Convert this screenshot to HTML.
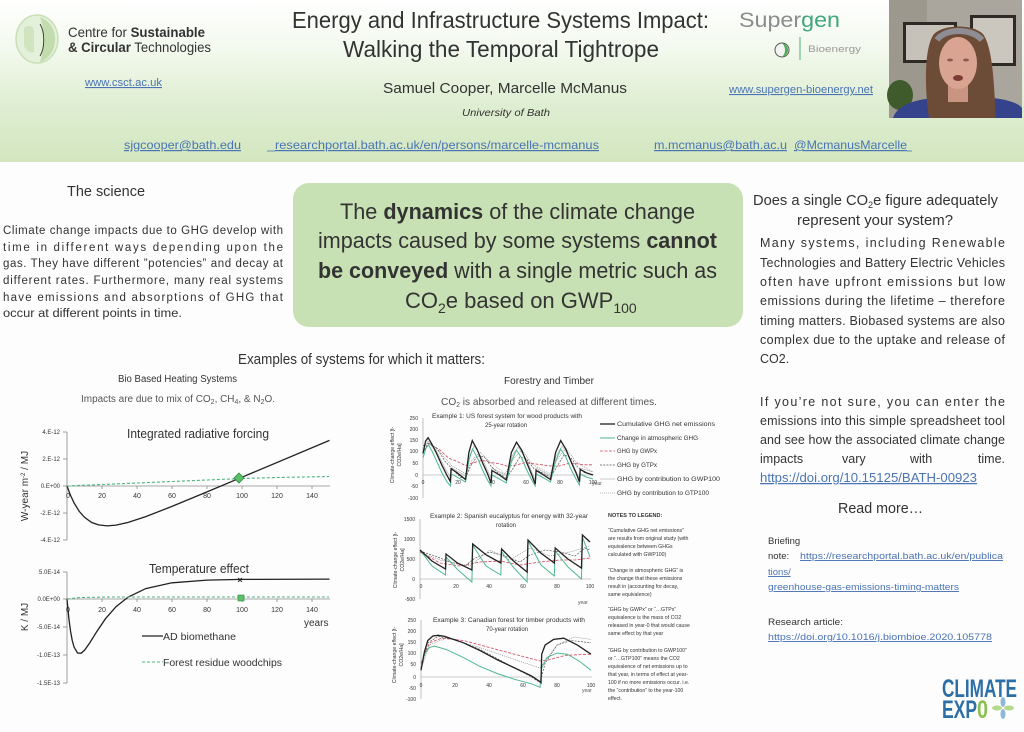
<!DOCTYPE html>
<html><head><meta charset="utf-8">
<style>
html,body{margin:0;padding:0;width:1024px;height:732px;overflow:hidden;background:#fff}
svg{display:block}
text{font-family:"Liberation Sans",sans-serif;fill:#333}
.lk{fill:#4a74b4;text-decoration:underline}
.tk{font-size:6px;fill:#555}
.ft{font-size:5px;fill:#555}
.nt{font-size:5.2px;fill:#333}
</style></head><body>
<svg width="1024" height="732" viewBox="0 0 1024 732" xmlns="http://www.w3.org/2000/svg">
<defs>
<linearGradient id="hdr" x1="0" y1="0" x2="0" y2="1">
<stop offset="0" stop-color="#ffffff"/>
<stop offset="0.3" stop-color="#f3f9ee"/>
<stop offset="0.65" stop-color="#dfeed2"/>
<stop offset="1" stop-color="#d2e6bf"/>
</linearGradient>
</defs>
<rect width="1024" height="732" fill="#fdfdfd"/>
<rect width="1024" height="162" fill="url(#hdr)"/>

<!-- CSCT logo -->
<ellipse cx="37" cy="39" rx="21" ry="24" fill="#e3f0da" stroke="#c9dfb8" stroke-width="1.5"/>
<path d="M40,17 C52,22 56,32 55,42 C54,52 48,59 40,62 C44,52 45,28 40,17 Z" fill="#c3dcae"/>
<path d="M24,28 C30,24 34,26 34,32 L34,52 C30,54 26,50 24,46 Z" fill="#cfe4bf"/>
<path d="M40,24 C45,32 45,48 40,56" stroke="#333" stroke-width="0.9" fill="none"/>
<text x="68" y="37" font-size="14" textLength="137" lengthAdjust="spacingAndGlyphs">Centre for <tspan font-weight="bold">Sustainable</tspan></text>
<text x="68" y="52" font-size="14" textLength="143" lengthAdjust="spacingAndGlyphs"><tspan font-weight="bold">&amp; Circular</tspan> Technologies</text>
<text x="85" y="86" font-size="11" class="lk" textLength="77" lengthAdjust="spacingAndGlyphs">www.csct.ac.uk</text>

<!-- Title -->
<text x="292" y="28" font-size="23" textLength="417" lengthAdjust="spacingAndGlyphs">Energy and Infrastructure Systems Impact:</text>
<text x="343" y="57" font-size="23" textLength="316" lengthAdjust="spacingAndGlyphs">Walking the Temporal Tightrope</text>
<text x="383" y="93" font-size="15" textLength="244" lengthAdjust="spacingAndGlyphs">Samuel Cooper, Marcelle McManus</text>
<text x="462" y="116" font-size="10.5" font-style="italic" textLength="88" lengthAdjust="spacingAndGlyphs">University of Bath</text>

<!-- Supergen -->
<text x="739" y="27" font-size="21" textLength="101" lengthAdjust="spacingAndGlyphs"><tspan style="fill:#8c8c8c">Super</tspan><tspan style="fill:#3fa77c">gen</tspan></text>
<circle cx="782" cy="50" r="7" fill="#f4f4f4" stroke="#555" stroke-width="1"/>
<path d="M782,43 C790,45 790,55 782,57 C786,53 786,47 782,43 Z" fill="#4caf50"/>
<line x1="800" y1="37" x2="800" y2="60" stroke="#4caf7d" stroke-width="1"/>
<text x="808" y="52" font-size="9" style="fill:#999" textLength="53" lengthAdjust="spacingAndGlyphs">Bioenergy</text>
<text x="729" y="93" font-size="11" class="lk" textLength="144" lengthAdjust="spacingAndGlyphs">www.supergen-bioenergy.net</text>

<!-- contact row -->
<text x="124" y="149" font-size="12" class="lk" textLength="117" lengthAdjust="spacingAndGlyphs">sjgcooper@bath.edu</text>
<line x1="267" y1="151" x2="275" y2="151" stroke="#4a74b4" stroke-width="0.8"/>
<text x="275" y="149" font-size="12" class="lk" textLength="324" lengthAdjust="spacingAndGlyphs">researchportal.bath.ac.uk/en/persons/marcelle-mcmanus</text>
<text x="654" y="149" font-size="12" class="lk" textLength="133" lengthAdjust="spacingAndGlyphs">m.mcmanus@bath.ac.u</text>
<text x="794" y="149" font-size="12" class="lk" textLength="113" lengthAdjust="spacingAndGlyphs">@McmanusMarcelle</text>
<line x1="907" y1="151" x2="912" y2="151" stroke="#4a74b4" stroke-width="0.8"/>

<!-- Webcam -->
<g>
<rect x="889" y="0" width="133" height="118" fill="#aba69d"/>
<rect x="889" y="0" width="38" height="118" fill="#9d988e"/>
<rect x="903" y="22" width="54" height="41" fill="#2e2a26"/>
<rect x="906" y="25" width="48" height="35" fill="#c7c2b9"/>
<rect x="970" y="15" width="46" height="51" fill="#2e2a26"/>
<rect x="973" y="18" width="40" height="45" fill="#ccc7be"/>
<ellipse cx="900" cy="95" rx="13" ry="15" fill="#3f5b2c"/>
<path d="M893,118 C898,102 925,96 957,98 C990,95 1016,100 1022,108 L1022,118 Z" fill="#35428c"/>
<path d="M929,118 C924,82 925,46 934,34 C944,24 973,24 983,34 C993,48 994,85 996,118 Z" fill="#6d4c37"/>
<rect x="948" y="84" width="20" height="18" fill="#c99482"/>
<ellipse cx="958" cy="63" rx="19" ry="26" fill="#d9a592"/>
<path d="M937,40 C945,28 972,28 982,40" stroke="#8d8d93" stroke-width="6" fill="none"/>
<ellipse cx="958" cy="78" rx="5" ry="3" fill="#7a3b35"/>
<ellipse cx="950" cy="60" rx="3" ry="1.5" fill="#8a5a4a"/>
<ellipse cx="966" cy="60" rx="3" ry="1.5" fill="#8a5a4a"/>
</g>

<!-- The science -->
<text x="67" y="196" font-size="15" textLength="78" lengthAdjust="spacingAndGlyphs">The science</text>
<g font-size="11.5">
<text x="3" y="234" textLength="280" lengthAdjust="spacing">Climate change impacts due to GHG develop with</text>
<text x="3" y="251" textLength="280" lengthAdjust="spacing">time in different ways depending upon the</text>
<text x="3" y="267" textLength="280" lengthAdjust="spacing">gas. They have different ”potencies” and decay at</text>
<text x="3" y="284" textLength="280" lengthAdjust="spacing">different rates. Furthermore, many real systems</text>
<text x="3" y="301" textLength="280" lengthAdjust="spacing">have emissions and absorptions of GHG that</text>
<text x="3" y="317" textLength="179" lengthAdjust="spacingAndGlyphs">occur at different points in time.</text>
</g>

<!-- Green box -->
<rect x="293" y="183" width="450" height="144" rx="16" fill="#c8e1b4"/>
<g font-size="22" style="fill:#222">
<text x="340" y="219" textLength="355" lengthAdjust="spacingAndGlyphs">The <tspan font-weight="bold">dynamics</tspan> of the climate change</text>
<text x="318" y="248" textLength="399" lengthAdjust="spacingAndGlyphs">impacts caused by some systems <tspan font-weight="bold">cannot</tspan></text>
<text x="318" y="278" textLength="399" lengthAdjust="spacingAndGlyphs"><tspan font-weight="bold">be conveyed</tspan> with a single metric such as</text>
<text x="405" y="308">CO<tspan dy="5" font-size="14">2</tspan><tspan dy="-5">e based on GWP</tspan><tspan dy="5" font-size="14">100</tspan></text>
</g>

<text x="238" y="364" font-size="14.5" textLength="247" lengthAdjust="spacingAndGlyphs">Examples of systems for which it matters:</text>

<!-- Bio based heating -->
<text x="118" y="382" font-size="10" textLength="119" lengthAdjust="spacingAndGlyphs">Bio Based Heating Systems</text>
<text x="81" y="402" font-size="10" style="fill:#555" textLength="194" lengthAdjust="spacingAndGlyphs">Impacts are due to mix of CO<tspan dy="2" font-size="7">2</tspan><tspan dy="-2">, CH</tspan><tspan dy="2" font-size="7">4</tspan><tspan dy="-2">, &amp; N</tspan><tspan dy="2" font-size="7">2</tspan><tspan dy="-2">O.</tspan></text>

<!-- chart 1 -->
<g stroke="#888" stroke-width="0.8">
<line x1="67" y1="432" x2="67" y2="540"/>
<line x1="67" y1="486" x2="330" y2="486"/>
<line x1="63" y1="432" x2="67" y2="432"/><line x1="63" y1="459" x2="67" y2="459"/><line x1="63" y1="486" x2="67" y2="486"/><line x1="63" y1="513" x2="67" y2="513"/><line x1="63" y1="540" x2="67" y2="540"/>
<line x1="102" y1="486" x2="102" y2="489"/><line x1="137" y1="486" x2="137" y2="489"/><line x1="172" y1="486" x2="172" y2="489"/><line x1="207" y1="486" x2="207" y2="489"/><line x1="242" y1="486" x2="242" y2="489"/><line x1="277" y1="486" x2="277" y2="489"/><line x1="312" y1="486" x2="312" y2="489"/>
</g>
<g class="tk" text-anchor="end">
<text x="60" y="434">4.E-12</text><text x="60" y="461">2.E-12</text><text x="60" y="488">0.E+00</text><text x="60" y="515">-2.E-12</text><text x="60" y="542">-4.E-12</text>
</g>
<g font-size="7" style="fill:#555" text-anchor="middle">
<text x="68" y="498">0</text><text x="102" y="498">20</text><text x="137" y="498">40</text><text x="172" y="498">60</text><text x="207" y="498">80</text><text x="242" y="498">100</text><text x="277" y="498">120</text><text x="312" y="498">140</text>
</g>
<text x="127" y="438" font-size="12.5" textLength="142" lengthAdjust="spacingAndGlyphs">Integrated radiative forcing</text>
<text transform="translate(28,486) rotate(-90)" font-size="10" text-anchor="middle">W-year m<tspan dy="-3" font-size="6">-2</tspan><tspan dy="3">  / MJ</tspan></text>
<polyline fill="none" stroke="#222" stroke-width="1.3" points="67,486 70.5,495.3 74,502.8 79.25,511.4 84.5,517.3 91.5,522.4 98.5,524.9 107.25,525.9 116,525.1 128.25,522.4 145.75,516.6 172,506.4 207,491.9 242,477.2 329.5,440.4"/>
<polyline fill="none" stroke="#4db380" stroke-width="1.1" stroke-dasharray="3,2" points="67,486 102,484.5 137,483 172,481.5 207,480 242,478.5 277,477.5 329,476.5"/>
<polygon points="239,473 244,478 239,483 234,478" fill="#5cc06a" stroke="#2e8b3e" stroke-width="0.8"/>

<!-- chart 2 -->
<g stroke="#888" stroke-width="0.8">
<line x1="67" y1="572" x2="67" y2="683"/>
<line x1="67" y1="599" x2="330" y2="599"/>
<line x1="63" y1="572" x2="67" y2="572"/><line x1="63" y1="599" x2="67" y2="599"/><line x1="63" y1="627" x2="67" y2="627"/><line x1="63" y1="655" x2="67" y2="655"/><line x1="63" y1="683" x2="67" y2="683"/>
<line x1="102" y1="599" x2="102" y2="602"/><line x1="137" y1="599" x2="137" y2="602"/><line x1="172" y1="599" x2="172" y2="602"/><line x1="207" y1="599" x2="207" y2="602"/><line x1="242" y1="599" x2="242" y2="602"/><line x1="277" y1="599" x2="277" y2="602"/><line x1="312" y1="599" x2="312" y2="602"/>
</g>
<g class="tk" text-anchor="end">
<text x="60" y="574">5.0E-14</text><text x="60" y="601">0.0E+00</text><text x="60" y="629">-5.0E-14</text><text x="60" y="657">-1.0E-13</text><text x="60" y="685">-1.5E-13</text>
</g>
<g font-size="7" style="fill:#555" text-anchor="middle">
<text x="68" y="612">0</text><text x="102" y="612">20</text><text x="137" y="612">40</text><text x="172" y="612">60</text><text x="207" y="612">80</text><text x="242" y="612">100</text><text x="277" y="612">120</text><text x="312" y="612">140</text>
</g>
<text x="304" y="626" font-size="10">years</text>
<text x="149" y="573" font-size="12.5" textLength="100" lengthAdjust="spacingAndGlyphs">Temperature effect</text>
<text transform="translate(28,617) rotate(-90)" font-size="10" text-anchor="middle">K / MJ</text>
<polyline fill="none" stroke="#222" stroke-width="1.3" points="67,599 68.75,617.5 70.5,631 72.25,640.5 74,646.9 77.5,653 81,653.3 84.5,650.3 89.75,642.9 96.75,631.6 105.5,618.7 116,606.7 128.25,597 145.75,588.6 172,582.8 207,580.1 242,579.4 329.5,579.1"/>
<polyline fill="none" stroke="#4db380" stroke-width="1.1" stroke-dasharray="3,2" points="67,599 80,597.5 110,597 329,597"/>
<text x="240" y="583" font-size="9" font-weight="bold" text-anchor="middle" style="fill:#222">×</text>
<rect x="238" y="595" width="6" height="6" fill="#5cc06a" stroke="#2e8b3e" stroke-width="0.6"/>
<line x1="142" y1="636" x2="163" y2="636" stroke="#222" stroke-width="1.3"/>
<text x="163" y="640" font-size="10.5" textLength="73" lengthAdjust="spacingAndGlyphs">AD biomethane</text>
<line x1="142" y1="662" x2="163" y2="662" stroke="#4db380" stroke-width="1.1" stroke-dasharray="3,2"/>
<text x="163" y="666" font-size="10.5" textLength="119" lengthAdjust="spacingAndGlyphs">Forest residue woodchips</text>

<!-- Forestry -->
<text x="504" y="384" font-size="10" textLength="90" lengthAdjust="spacingAndGlyphs">Forestry and Timber</text>
<text x="441" y="405" font-size="10.5" style="fill:#555" textLength="216" lengthAdjust="spacingAndGlyphs">CO<tspan dy="2" font-size="7">2</tspan><tspan dy="-2"> is absorbed and released at different times.</tspan></text>

<!-- Forest chart 1 -->
<g stroke="#999" stroke-width="0.6">
<line x1="423" y1="418" x2="423" y2="498"/>
<line x1="423" y1="475" x2="594" y2="475"/>
</g>
<g class="ft" text-anchor="end">
<text x="418" y="420">250</text><text x="418" y="431">200</text><text x="418" y="442">150</text><text x="418" y="453">100</text><text x="418" y="465">50</text><text x="418" y="477">0</text><text x="418" y="488">-50</text><text x="418" y="500">-100</text>
</g>
<g class="ft" text-anchor="middle">
<text x="423" y="484">0</text><text x="458" y="484">20</text><text x="492" y="484">40</text><text x="526" y="484">60</text><text x="560" y="484">80</text><text x="593" y="484">100</text>
</g>
<text x="592" y="485" class="ft">year</text>
<text x="432" y="418" font-size="6" textLength="150" lengthAdjust="spacingAndGlyphs">Example 1: US forest system for wood products with</text>
<text x="506" y="427" font-size="6" text-anchor="middle">25-year rotation</text>
<text transform="translate(394,455) rotate(-90)" font-size="5.2" text-anchor="middle">Climate-change effect [t-</text>
<text transform="translate(401,455) rotate(-90)" font-size="5.2" text-anchor="middle">CO2e/Ha]</text>
<polyline fill="none" stroke="#aaa" stroke-width="0.6" points="423,450 428,441 436,450 446,470 451,478 452,468 466,476 470,455 474,446 482,458 491,478 492,468 507,476 512,456 518,447 527,460 535,480 536,468 551,476 556,456 562,446 570,458 579,478 580,468 593,472"/>
<polyline fill="none" stroke="#777" stroke-width="0.6" stroke-dasharray="1,1" points="423,452 430,443 440,452 452,466 466,474 472,460 480,452 490,462 505,474 514,458 522,450 532,464 550,474 558,458 566,448 576,462 593,472"/>
<polyline fill="none" stroke="#d0455a" stroke-width="0.8" stroke-dasharray="3,1.5" points="423,445.6 428.1,443.4 440,450.1 448.5,458 457,461.4 465.5,465.5 474,462.6 482.5,460.3 491,462.6 499.5,463.7 508,466.4 516.5,464.8 525,462.6 533.5,463.7 542,464.8 550.5,466 559,466 567.5,463.7 576,463.7 584.5,464.8 593,464.8"/>
<polyline fill="none" stroke="#555" stroke-width="0.7" stroke-dasharray="2,1.2" points="423,452.4 428.1,443.4 436.6,447.9 445.1,461.4 453.6,470.5 460.4,477.3 465.5,478.4 470.6,466 477.4,455.8 484.2,456.9 491,466 497.8,472.7 506.3,478.4 513.1,468.2 519.9,456.9 526.7,459.2 533.5,468.2 542,472.7 550.5,477.3 557.3,466 564.1,454.7 570.9,458 577.7,467.1 584.5,472.7 593,475"/>
<polyline fill="none" stroke="#4fb88f" stroke-width="1" points="423,458 426,448 428.5,445 432,451 437,462 442,473 447,482 450.5,486 451.5,474 457,477 465.5,482 469,460 472.5,449 477.5,458 482.5,470 487.5,480 491,486 492,475 499.5,479 506.3,483 511.4,461 516.5,450 521.6,458 526.7,470 531.8,480 535.2,486 536.1,474 542,477 550.5,482 555.6,461 560.7,449 565.8,457 570.9,469 576,479 579.4,485 580.3,474 586.2,477 593,479"/>
<polyline fill="none" stroke="#222" stroke-width="1.3" points="423,453.5 425.6,441.1 428.1,437.7 431.5,443.4 436.6,453.5 441.7,464.8 446.8,475 450.2,481.3 451.1,468.7 457,472.7 465.5,479.5 468.9,452.4 472.3,440.6 477.4,450.1 482.5,462.6 487.6,473.9 491,482.9 491.9,470.5 499.5,475 506.3,480 511.4,452.4 516.5,442.2 521.6,450.1 526.7,462.6 531.8,475 535.2,484 536.1,470.5 542,473.9 550.5,479.5 555.6,452.4 560.7,440.6 565.8,449 570.9,461.4 576,472.7 579.4,481.8 580.3,469.4 586.2,472.7 593,475"/>

<!-- legend -->
<line x1="600" y1="424" x2="615" y2="424" stroke="#222" stroke-width="1.3"/>
<line x1="600" y1="438" x2="615" y2="438" stroke="#4fb88f" stroke-width="1"/>
<line x1="600" y1="451" x2="615" y2="451" stroke="#d0455a" stroke-width="0.8" stroke-dasharray="3,1.5"/>
<line x1="600" y1="465" x2="615" y2="465" stroke="#555" stroke-width="0.7" stroke-dasharray="2,1.2"/>
<line x1="600" y1="479" x2="615" y2="479" stroke="#aaa" stroke-width="0.6"/>
<line x1="600" y1="493" x2="615" y2="493" stroke="#777" stroke-width="0.6" stroke-dasharray="1,1"/>
<g font-size="6.2" style="fill:#444">
<text x="617" y="426" textLength="98" lengthAdjust="spacingAndGlyphs">Cumulative GHG net emissions</text>
<text x="617" y="440" textLength="81" lengthAdjust="spacingAndGlyphs">Change in atmospheric GHG</text>
<text x="617" y="453" textLength="40" lengthAdjust="spacingAndGlyphs">GHG by GWPx</text>
<text x="617" y="467" textLength="40" lengthAdjust="spacingAndGlyphs">GHG by GTPx</text>
<text x="617" y="481" textLength="103" lengthAdjust="spacingAndGlyphs">GHG by contribution to GWP100</text>
<text x="617" y="495" textLength="92" lengthAdjust="spacingAndGlyphs">GHG by contribution to GTP100</text>
</g>

<!-- Forest chart 2 -->
<g stroke="#999" stroke-width="0.6">
<line x1="420" y1="519" x2="420" y2="599"/>
<line x1="420" y1="579" x2="591" y2="579"/>
</g>
<g class="ft" text-anchor="end">
<text x="415" y="521">1500</text><text x="415" y="541">1000</text><text x="415" y="561">500</text><text x="415" y="581">0</text><text x="415" y="601">-500</text>
</g>
<g class="ft" text-anchor="middle">
<text x="421" y="588">0</text><text x="456" y="588">20</text><text x="489" y="588">40</text><text x="523" y="588">60</text><text x="557" y="588">80</text><text x="590" y="588">100</text>
</g>
<text x="578" y="604" class="ft">year</text>
<text x="430" y="518" font-size="6" textLength="158" lengthAdjust="spacingAndGlyphs">Example 2: Spanish eucalyptus for energy with 32-year</text>
<text x="506" y="527" font-size="6" text-anchor="middle">rotation</text>
<text transform="translate(397,560) rotate(-90)" font-size="5.2" text-anchor="middle">Climate-change effect [t-</text>
<text transform="translate(404,560) rotate(-90)" font-size="5.2" text-anchor="middle">CO2e/Ha]</text>
<polyline fill="none" stroke="#d0455a" stroke-width="0.8" stroke-dasharray="3,1.5" points="420,552 440,563 460,566 480,562 500,561 520,565 540,562 560,560 575,560 590,558"/>
<polyline fill="none" stroke="#555" stroke-width="0.7" stroke-dasharray="2,1.2" points="420,551 435,556 450,562 465,566 475,558 490,552 505,556 520,562 530,555 545,550 560,552 575,556 585,548 590,550"/>
<polyline fill="none" stroke="#777" stroke-width="0.6" stroke-dasharray="1,1" points="420,552 440,560 470,566 490,550 510,560 530,548 550,556 570,552 590,546"/>
<polyline fill="none" stroke="#4fb88f" stroke-width="1" points="420,550 432,566 445.5,575 446,557 458,570 471.9,582 472.7,545 486,566 500.8,575 501.6,552 514,568 527.1,582 528,541 541,565 554.3,576 555.2,551 568,567 581.5,579 582.4,537 590,557"/>
<polyline fill="none" stroke="#222" stroke-width="1.3" points="420,550 431.9,561 445.5,569 446,554 457.4,563 471.9,570 472.7,544 486.3,555 500.8,563 501.6,549 513.5,561 527.1,572 528,540 540.7,553 554.3,563 555.2,548 567.9,559 581.5,568 582.4,535 590,542"/>

<!-- Forest chart 3 -->
<g stroke="#999" stroke-width="0.6">
<line x1="421" y1="620" x2="421" y2="699"/>
<line x1="421" y1="677" x2="592" y2="677"/>
</g>
<g class="ft" text-anchor="end">
<text x="416" y="622">250</text><text x="416" y="633">200</text><text x="416" y="644">150</text><text x="416" y="655">100</text><text x="416" y="666">50</text><text x="416" y="679">0</text><text x="416" y="690">-50</text><text x="416" y="701">-100</text>
</g>
<g class="ft" text-anchor="middle">
<text x="421" y="687">0</text><text x="455" y="687">20</text><text x="489" y="687">40</text><text x="523" y="687">60</text><text x="557" y="687">80</text><text x="591" y="687">100</text>
</g>
<text x="582" y="692" class="ft">year</text>
<text x="433" y="622" font-size="6" textLength="152" lengthAdjust="spacingAndGlyphs">Example 3: Canadian forest for timber products with</text>
<text x="507" y="631" font-size="6" text-anchor="middle">70-year rotation</text>
<text transform="translate(396,655) rotate(-90)" font-size="5.2" text-anchor="middle">Climate-change effect [t-</text>
<text transform="translate(403,655) rotate(-90)" font-size="5.2" text-anchor="middle">CO2e/Ha]</text>
<polyline fill="none" stroke="#d0455a" stroke-width="0.8" stroke-dasharray="3,1.5" points="421,663.3 429.5,642.8 441.4,638.2 463.5,640.5 489,647.4 514.5,654.2 540,661 548.5,659.9 565.5,655.3 591,654.2"/>
<polyline fill="none" stroke="#555" stroke-width="0.7" stroke-dasharray="2,1.2" points="421,668 427.8,642.8 438,636.4 455,639.4 480.5,649.6 506,663.3 531.5,677 540,682.7 545.1,663.3 557,645.1 570.6,640.5 591,642.8"/>
<polyline fill="none" stroke="#777" stroke-width="0.6" stroke-dasharray="1,1" points="421,669 429.5,645 446.5,638 472,645 506,656.5 540,668 543.4,663.3 557,645 574,637 591,639.4"/>
<polyline fill="none" stroke="#4fb88f" stroke-width="1" points="421,670.2 424.4,654.2 429.5,647.4 434.6,646.2 446.5,649.6 463.5,657.6 480.5,666.7 497.5,673.6 514.5,679.3 531.5,683.8 540,687.3 541.7,667.9 546.8,657.6 557,653.1 567.2,654.2 579.1,661 591,670.2"/>
<polyline fill="none" stroke="#222" stroke-width="1.3" points="421,670.2 424.4,651.9 427.8,640.5 432.9,636 438,635.3 444.8,636.4 463.5,642.8 480.5,650.8 497.5,659.9 514.5,667.9 531.5,675.9 540,681.6 541,682.7 541.7,654.2 545.1,645.1 553.6,639.4 563.8,638.2 577.4,645.1 591,654.2"/>

<!-- Notes -->
<text x="608" y="517" font-size="5.5" font-weight="bold">NOTES TO LEGEND:</text>
<g class="nt">
<text x="608" y="532">“Cumulative GHG net emissions”</text>
<text x="608" y="540">are results from original study (with</text>
<text x="608" y="548">equivalence between GHGs</text>
<text x="608" y="556">calculated with GWP100)</text>
<text x="608" y="572">“Change in atmospheric GHG” is</text>
<text x="608" y="580">the change that these emissions</text>
<text x="608" y="588">result in (accounting for decay,</text>
<text x="608" y="596">same equivalence)</text>
<text x="608" y="611">“GHG by GWPx” or “…GTPx”</text>
<text x="608" y="619">equivalence is the mass of CO2</text>
<text x="608" y="627">released in year-0 that would cause</text>
<text x="608" y="635">same effect by that year</text>
<text x="608" y="652">“GHG by contribution to GWP100”</text>
<text x="608" y="660">or “…GTP100” means the CO2</text>
<text x="608" y="668">equivalence of net emissions up to</text>
<text x="608" y="676">that year, in terms of effect at year-</text>
<text x="608" y="684">100 if no more emissions occur. i.e.</text>
<text x="608" y="692">the “contribution” to the year-100</text>
<text x="608" y="700">effect.</text>
</g>

<!-- Right column -->
<text x="753" y="205" font-size="14.5" textLength="245" lengthAdjust="spacingAndGlyphs">Does a single CO<tspan dy="3" font-size="9">2</tspan><tspan dy="-3">e figure adequately</tspan></text>
<text x="797" y="225" font-size="14.5" textLength="156" lengthAdjust="spacingAndGlyphs">represent your system?</text>
<g font-size="12.5">
<text x="760" y="247" textLength="245" lengthAdjust="spacing">Many systems, including Renewable</text>
<text x="760" y="267" textLength="245" lengthAdjust="spacing">Technologies and Battery Electric Vehicles</text>
<text x="760" y="286" textLength="245" lengthAdjust="spacing">often have upfront emissions but low</text>
<text x="760" y="305" textLength="245" lengthAdjust="spacing">emissions during the lifetime – therefore</text>
<text x="760" y="325" textLength="245" lengthAdjust="spacing">timing matters. Biobased systems are also</text>
<text x="760" y="344" textLength="245" lengthAdjust="spacing">complex due to the uptake and release of</text>
<text x="760" y="363">CO2.</text>
<text x="760" y="406" textLength="245" lengthAdjust="spacing">If you’re not sure, you can enter the</text>
<text x="760" y="425" textLength="245" lengthAdjust="spacing">emissions into this simple spreadsheet tool</text>
<text x="760" y="444" textLength="245" lengthAdjust="spacing">and see how the associated climate change</text>
<text x="760" y="463">impacts</text>
<text x="842" y="463">vary</text>
<text x="910" y="463">with</text>
<text x="1005" y="463" text-anchor="end">time.</text>
<text x="760" y="482" class="lk" textLength="217" lengthAdjust="spacingAndGlyphs">https://doi.org/10.15125/BATH-00923</text>
</g>

<text x="838" y="513" font-size="14.5" textLength="85" lengthAdjust="spacingAndGlyphs">Read more…</text>
<g font-size="9.5">
<text x="768" y="544">Briefing</text>
<text x="768" y="559">note:</text>
<text x="800" y="559" class="lk" textLength="203" lengthAdjust="spacingAndGlyphs">https://researchportal.bath.ac.uk/en/publica</text>
<text x="768" y="575" class="lk">tions/</text>
<text x="768" y="590" class="lk" textLength="191" lengthAdjust="spacingAndGlyphs">greenhouse-gas-emissions-timing-matters</text>
<text x="768" y="625" textLength="75" lengthAdjust="spacingAndGlyphs">Research article:</text>
<text x="768" y="640" class="lk" textLength="224" lengthAdjust="spacingAndGlyphs">https://doi.org/10.1016/j.biombioe.2020.105778</text>
</g>

<!-- Climate Expo -->
<text x="942" y="697" font-size="25" font-weight="bold" style="fill:#2c6fa6" textLength="75" lengthAdjust="spacingAndGlyphs">CLIMATE</text>
<text x="942" y="718" font-size="25" font-weight="bold" style="fill:#2c6fa6" textLength="35" lengthAdjust="spacingAndGlyphs">EXP</text>
<text x="977" y="718" font-size="25" font-weight="bold" style="fill:#8cc152" textLength="11" lengthAdjust="spacingAndGlyphs">0</text>
<g>
<ellipse cx="1003" cy="702" rx="2.5" ry="5" fill="#8fb8d8"/>
<ellipse cx="1003" cy="714" rx="2.5" ry="5" fill="#8fb8d8"/>
<ellipse cx="997" cy="708" rx="5" ry="2.5" fill="#b5d88a"/>
<ellipse cx="1009" cy="708" rx="5" ry="2.5" fill="#b5d88a"/>
</g>
</svg>
</body></html>
